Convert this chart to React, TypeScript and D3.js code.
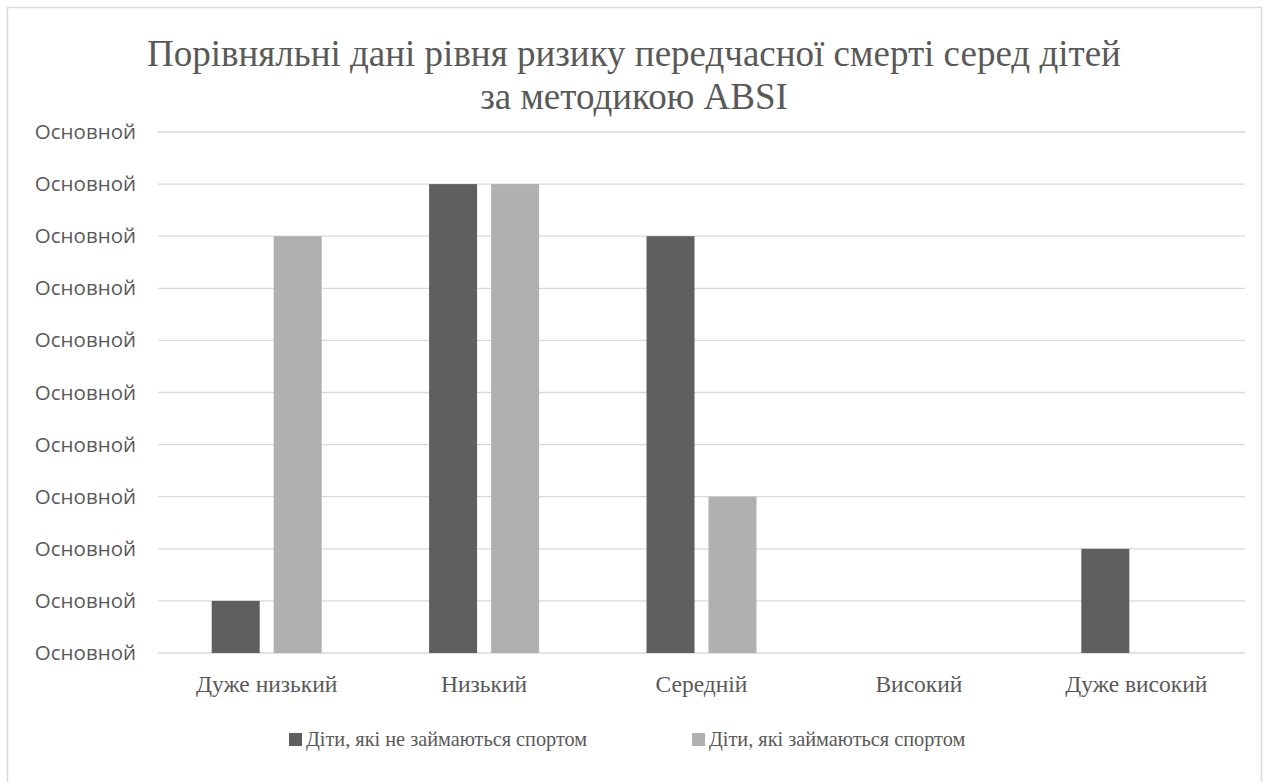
import React from "react";
import * as d3 from "d3";

const categories = ["Дуже низький", "Низький", "Середній", "Високий", "Дуже високий"];
const seriesNames = ["Діти, які не займаються спортом", "Діти, які займаються спортом"];
const notSporty = [1, 9, 8, 0, 2];
const sporty = [8, 9, 3, 0, 0];
const yTicks = [0, 1, 2, 3, 4, 5, 6, 7, 8, 9, 10];
const yTickLabel = "Основной";
const titleLines = [
  "Порівняльні дані рівня ризику передчасної смерті серед дітей",
  "за методикою ABSI",
];

const W = 1266;
const H = 782;
const M = { left: 158, right: 1245, top: 132, bottom: 653 };
const colors = ["#5f5f5f", "#b0b0b0"];
const textColor = "#595959";
const serifFont = "Liberation Serif";
const sansFont = "Open Sans";

export default function App() {
  const x = d3.scaleBand<string>().domain(categories).range([M.left, M.right]);
  const y = d3.scaleLinear().domain([0, 10]).range([M.bottom, M.top]);
  const barW = 48;
  const gap = 14;
  const series = [notSporty, sporty];

  return (
    <svg width={W} height={H} style={{ position: "absolute", left: 0, top: 0 }}>
      <rect x={0} y={0} width={W} height={H} fill="#fff" />
      <rect x={7.5} y={7.5} width={1254} height={800} fill="#fff" stroke="#d9d9d9" strokeWidth={1.5} />
      {titleLines.map((t, i) => (
        <text key={i} x={634} y={66 + i * 43} textAnchor="middle" fontFamily={serifFont} fontSize={37} fill={textColor}>
          {t}
        </text>
      ))}
      {yTicks.map((v) => (
        <g key={v}>
          <line x1={M.left} x2={M.right} y1={y(v)} y2={y(v)} stroke="#d9d9d9" strokeWidth={1.3} />
          <text x={136} y={y(v) + 7} textAnchor="end" fontFamily={sansFont} fontSize={20.5} fill={textColor}>
            {yTickLabel}
          </text>
        </g>
      ))}
      {categories.map((c, ci) => {
        const cx = (x(c) as number) + x.bandwidth() / 2;
        return (
          <g key={c}>
            {series.map((s, si) => {
              const bx = si === 0 ? cx - gap / 2 - barW : cx + gap / 2;
              const v = s[ci];
              if (v <= 0) return null;
              return <rect key={si} x={bx} y={y(v)} width={barW} height={y(0) - y(v)} fill={colors[si]} />;
            })}
            <text x={cx} y={692} textAnchor="middle" fontFamily={serifFont} fontSize={23.5} fill={textColor}>
              {c}
            </text>
          </g>
        );
      })}
      {seriesNames.map((n, i) => {
        const lx = i === 0 ? 289 : 692;
        return (
          <g key={n}>
            <rect x={lx} y={733} width={13} height={13} fill={colors[i]} />
            <text x={lx + 17} y={746} fontFamily={serifFont} fontSize={20.3} fill={textColor}>
              {n}
            </text>
          </g>
        );
      })}
    </svg>
  );
}
